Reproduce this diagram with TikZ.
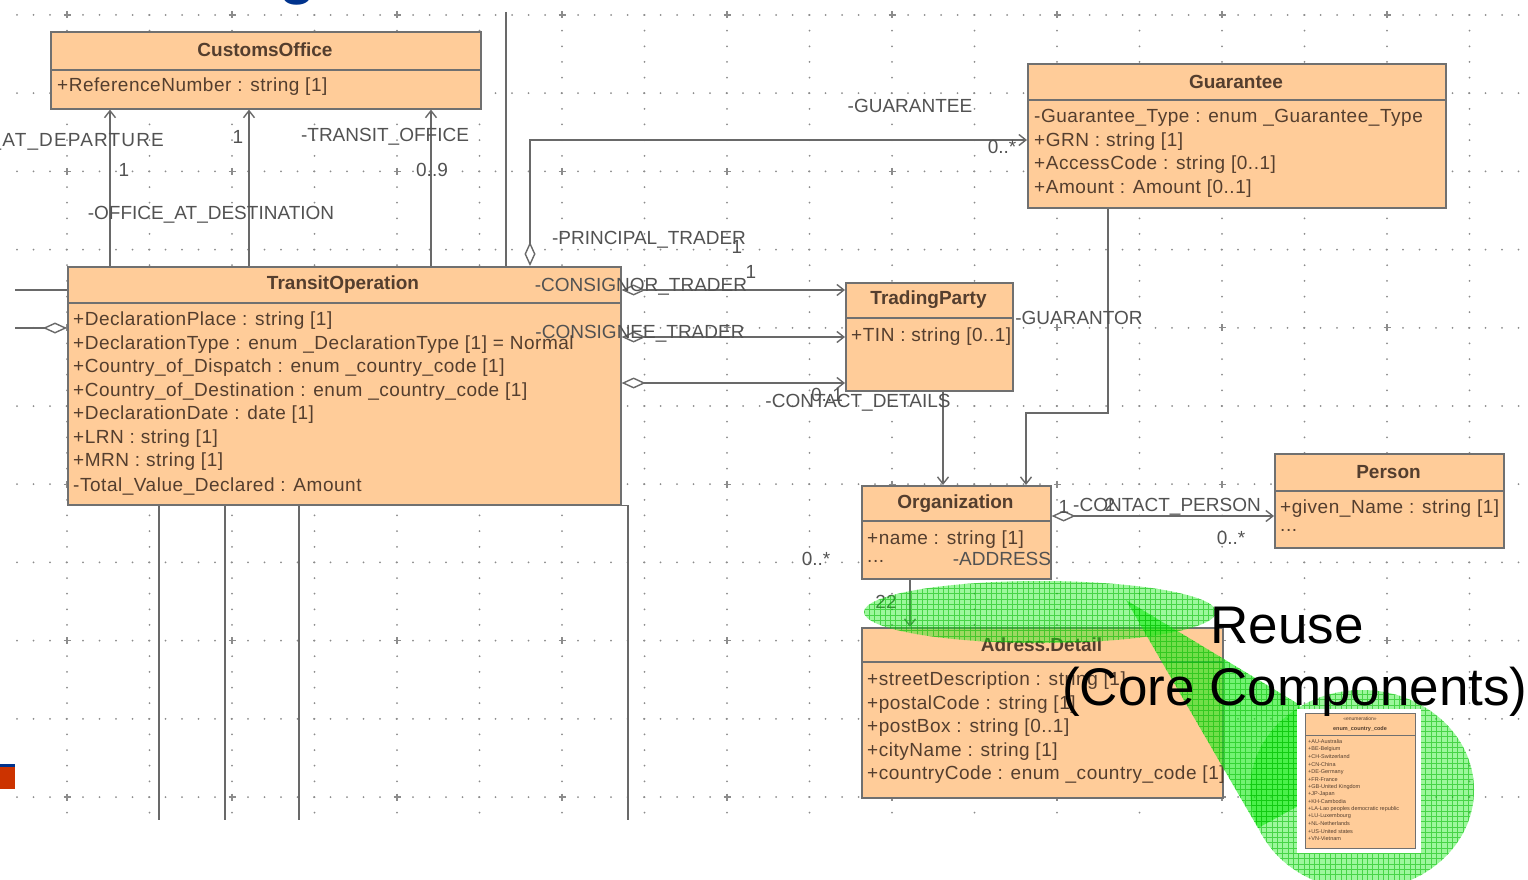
\documentclass[tikz,border=0pt]{standalone}
\usepackage{fontspec}
\setmainfont{Liberation Sans}
\usetikzlibrary{arrows.meta,calc}

\definecolor{boxfill}{RGB}{255,204,153}
\definecolor{boxline}{RGB}{112,112,112}
\definecolor{boxtext}{RGB}{84,62,46}
\definecolor{labeltext}{RGB}{82,82,82}
\definecolor{wire}{RGB}{105,105,105}
\definecolor{dotgray}{RGB}{140,140,140}
\definecolor{hlgreen}{RGB}{20,235,20}
\definecolor{hlhatch}{RGB}{0,185,0}
\definecolor{slideblue}{RGB}{0,51,141}
\definecolor{slideorange}{RGB}{204,51,0}

% translucent green marker with a fine hatch, clipped to the given path
\newcommand{\greenpatch}[2]{%
  \begin{scope}
    \clip #1;
    \fill[hlgreen, fill opacity=#2] (850,560) rectangle (1528,880);
    \draw[hlhatch, line width=0.6pt, opacity=0.55, step=5.3pt] (850,560) grid (1528,880);
  \end{scope}}

\begin{document}
\begin{tikzpicture}[x=1pt,y=-1pt,
  classbox/.style={draw=boxline, fill=boxfill, line width=1.6pt, inner sep=0pt, anchor=north west},
  sepline/.style={draw=boxline, line width=1.4pt},
  cname/.style={font=\fontsize{19}{22}\selectfont\bfseries, text=boxtext, inner sep=0pt},
  attr/.style={font=\fontsize{19}{22}\selectfont\addfontfeature{LetterSpace=2.8}, text=boxtext, inner sep=0pt, anchor=west},
  role/.style={font=\fontsize{19}{22}\selectfont, text=labeltext, inner sep=0pt},
  assoc/.style={draw=wire, line width=1.4pt},
  nav/.style={-{Straight Barb[length=7pt,width=11pt]}},
  agg/.style={{Diamond[fill=white,length=24pt,width=11pt]}-},
  aggnav/.style={{Diamond[fill=white,length=24pt,width=11pt]}-{Straight Barb[length=7pt,width=11pt]}},
  enumtxt/.style={font=\fontsize{5.5}{6}\selectfont, text=boxtext, inner sep=0pt, anchor=west}
]
\useasboundingbox (0,0) rectangle (1528,880);
\clip (0,0) rectangle (1528,880);

% ---------- slide remnants ----------
\node[font=\fontsize{60}{60}\selectfont\bfseries, text=slideblue, anchor=base, inner sep=0pt] (titleg) at (298,-7) {g};
\fill[slideblue] (0,764) rectangle (15,767);
\fill[slideorange] (0,767) rectangle (15,789);

% ---------- dotted drawing grid ----------
\foreach \r in {0,...,10}
  \foreach \i in {0,...,91}
    \fill[dotgray] ({17+16.5*\i},{15+78.2*\r}) circle (1.0);
\foreach \c in {0,...,17}
  \foreach \j in {0,...,51}
    \fill[dotgray] ({67+82.5*\c},{15+15.64*\j}) circle (1.0);
\foreach \gx in {67,232,397,562,727,892,1057,1222,1387}
  \foreach \gy in {15,171.4,327.8,484.2,640.6,797}
    \draw[dotgray, line width=1.2pt] (\gx-3.5,\gy) -- (\gx+3.5,\gy) (\gx,\gy-3.5) -- (\gx,\gy+3.5);

% ---------- classes ----------
\node[classbox, minimum width=430pt, minimum height=77pt] (co) at (50,31) {};
\draw[sepline] ($(co.north west)+(0,39)$) -- ($(co.north east)+(0,39)$);
\node[cname] (coT) at (265,50) {CustomsOffice};
\node[attr] (coA1) at (57,87) {+ReferenceNumber : string [1]};

\node[classbox, minimum width=418pt, minimum height=144pt] (ga) at (1027,63) {};
\draw[sepline] ($(ga.north west)+(0,37)$) -- ($(ga.north east)+(0,37)$);
\node[cname] (gaT) at (1236,82) {Guarantee};
\node[attr] (gaA1) at (1034,118) {-Guarantee\_Type : enum \_Guarantee\_Type};
\node[attr] (gaA2) at (1034,142) {+GRN : string [1]};
\node[attr] (gaA3) at (1034,165) {+AccessCode : string [0..1]};
\node[attr] (gaA4) at (1034,189) {+Amount : Amount [0..1]};

\node[classbox, minimum width=553pt, minimum height=238pt] (to) at (67,266) {};
\draw[sepline] ($(to.north west)+(0,37)$) -- ($(to.north east)+(0,37)$);
\node[cname] (toT) at (343,285) {TransitOperation};
\node[attr] (toA1) at (73,321) {+DeclarationPlace : string [1]};
\node[attr] (toA2) at (73,345) {+DeclarationType : enum \_DeclarationType [1] = Normal};
\node[attr] (toA3) at (73,368) {+Country\_of\_Dispatch : enum \_country\_code [1]};
\node[attr] (toA4) at (73,392) {+Country\_of\_Destination : enum \_country\_code [1]};
\node[attr] (toA5) at (73,415) {+DeclarationDate : date [1]};
\node[attr] (toA6) at (73,439) {+LRN : string [1]};
\node[attr] (toA7) at (73,462) {+MRN : string [1]};
\node[attr] (toA8) at (73,486) {-Total\_Value\_Declared : Amount};

\node[classbox, minimum width=167pt, minimum height=108pt] (tp) at (845,282) {};
\draw[sepline] ($(tp.north west)+(0,36)$) -- ($(tp.north east)+(0,36)$);
\node[cname] (tpT) at (928.5,300) {TradingParty};
\node[attr] (tpA1) at (851,337) {+TIN : string [0..1]};

\node[classbox, minimum width=189pt, minimum height=93pt] (org) at (861,485) {};
\draw[sepline] ($(org.north west)+(0,36)$) -- ($(org.north east)+(0,36)$);
\node[cname] (orgT) at (955.5,504) {Organization};
\node[attr] (orgA1) at (867,540) {+name : string [1]};
\node[attr] (orgA2) at (867,561) {...};

\node[classbox, minimum width=229pt, minimum height=94pt] (pe) at (1274,453) {};
\draw[sepline] ($(pe.north west)+(0,38)$) -- ($(pe.north east)+(0,38)$);
\node[cname] (peT) at (1388.5,472) {Person};
\node[attr] (peA1) at (1280,509) {+given\_Name : string [1]};
\node[attr] (peA2) at (1280,530) {...};

\node[classbox, minimum width=361pt, minimum height=170pt] (ad) at (861,627) {};
\draw[sepline] ($(ad.north west)+(0,35)$) -- ($(ad.north east)+(0,35)$);
\node[cname] (adT) at (1041.5,645) {Adress.Detail};
\node[attr] (adA1) at (867,681) {+streetDescription : string [1]};
\node[attr] (adA2) at (867,705) {+postalCode : string [1]};
\node[attr] (adA3) at (867,728) {+postBox : string [0..1]};
\node[attr] (adA4) at (867,752) {+cityName : string [1]};
\node[attr] (adA5) at (867,775) {+countryCode : enum \_country\_code [1]};

% ---------- association routing points ----------
\coordinate (xDep) at (110,0);
\coordinate (xDest) at (249,0);
\coordinate (xTrans) at (431,0);
\coordinate (topEnd) at (506,12);
\coordinate (gRoute) at (530,140);
\coordinate (yCnor) at (0,290);
\coordinate (yCnee) at (0,337);
\coordinate (yCont) at (0,383);
\coordinate (leftA) at (15,290);
\coordinate (leftB) at (15,328);
\coordinate (downA) at (159,820);
\coordinate (downB) at (225,820);
\coordinate (downC) at (299,820);
\coordinate (downD) at (628,820);
\coordinate (xTpOrg) at (943,0);
\coordinate (xGa) at (1108,0);
\coordinate (gaBend) at (1026,413);
\coordinate (xAddr) at (910,0);
\coordinate (yPers) at (0,516);

% ---------- associations ----------
\draw[assoc,nav] (to.north -| xDep) -- (co.south -| xDep);
\draw[assoc,nav] (to.north -| xDest) -- (co.south -| xDest);
\draw[assoc,nav] (to.north -| xTrans) -- (co.south -| xTrans);
\draw[assoc] (topEnd) -- (to.north -| topEnd);
\draw[assoc,aggnav] (to.north -| gRoute) |- (ga.west |- gRoute);
\draw[assoc,aggnav] (to.east |- yCnor) -- (tp.west |- yCnor);
\draw[assoc,aggnav] (to.east |- yCnee) -- (tp.west |- yCnee);
\draw[assoc,aggnav] (to.east |- yCont) -- (tp.west |- yCont);
\draw[assoc] (to.west |- leftA) -- (leftA);
\draw[assoc,agg] (to.west |- leftB) -- (leftB);
\draw[assoc] (to.south -| downA) -- (downA);
\draw[assoc] (to.south -| downB) -- (downB);
\draw[assoc] (to.south -| downC) -- (downC);
\draw[assoc] (to.south east) -| (downD);
\draw[assoc,nav] (tp.south -| xTpOrg) -- (org.north -| xTpOrg);
\draw[assoc,nav] (ga.south -| xGa) |- (gaBend) -- (org.north -| gaBend);
\draw[assoc,nav] (org.south -| xAddr) -- (ad.north -| xAddr);
\draw[assoc,aggnav] (org.east |- yPers) -- (pe.west |- yPers);

% ---------- role names and multiplicities ----------
\node[role, anchor=east, font=\fontsize{19}{22}\selectfont\addfontfeature{LetterSpace=6}] (rDep) at (164,142) {-OFFICE\_AT\_DEPARTURE};
\node[role] (mDep) at (124,170) {1};
\node[role] (mDest) at (238,137) {1};
\node[role] (rDest) at (211,215) {-OFFICE\_AT\_DESTINATION};
\node[role] (rTrans) at (385,137) {-TRANSIT\_OFFICE};
\node[role] (mTrans) at (432,170) {0..9};
\node[role] (rGa) at (910,106) {-GUARANTEE};
\node[role] (mGa) at (1002,147) {0..*};
\node[role] (rPrin) at (649,240) {-PRINCIPAL\_TRADER};
\node[role] (mPrin) at (737,247) {1};
\node[role] (mCnor) at (751,272) {1};
\node[role] (rCnor) at (641,287) {-CONSIGNOR\_TRADER};
\node[role] (rCnee) at (640,334) {-CONSIGNEE\_TRADER};
\node[role] (mCont) at (827,395) {0..1};
\node[role] (rCont) at (858,403) {-CONTACT\_DETAILS};
\node[role] (rGuar) at (1079,318) {-GUARANTOR};
\node[role] (rAddr) at (1002,559) {-ADDRESS};
\node[role] (mAddrA) at (816,559) {0..*};
\node[role] (mAddrB) at (886,602) {22};
\node[role] (mPersA) at (1064,507) {1};
\node[role] (rPers) at (1167,507) {-CONTACT\_PERSON};
\node[role] (mPersB) at (1110,505) {2};
\node[role] (mPersC) at (1231,538) {0..*};

% ---------- green highlight with callout ----------
\greenpatch{(1040,612) ellipse [x radius=176, y radius=31]}{0.42}
\greenpatch{(1362,790) ellipse [x radius=112, y radius=100]}{0.42}
\greenpatch{(1126,600) -- (1300,705) -- (1300,805) -- (1258,828) -- cycle}{0.6}

% ---------- enumeration thumbnail ----------
\fill[white] (1297,709) rectangle (1421,853);
\node[draw=boxline, fill=boxfill, line width=0.8pt, inner sep=0pt, anchor=north west,
      minimum width=110pt, minimum height=135pt] (en) at (1305,713) {};
\draw[draw=boxline, line width=0.6pt] ($(en.north west)+(0,22)$) -- ($(en.north east)+(0,22)$);
\node[font=\fontsize{5}{6}\selectfont, text=boxtext, inner sep=0pt] (enS) at (1360,719) {<<enumeration>>};
\node[font=\fontsize{5.5}{6}\selectfont\bfseries, text=boxtext, inner sep=0pt] (enT) at (1360,729) {enum\_country\_code};
\foreach \t [count=\k] in {+AU-Australia,+BE-Belgium,+CH-Switzerland,+CN-China,+DE-Germany,+FR-France,+GB-United Kingdom,+JP-Japan,+KH-Cambodia,+LA-Lao peoples democratic republic,+LU-Luxembourg,+NL-Netherlands,+US-United states,+VN-Vietnam}
  \node[enumtxt] (en\k) at (1308,{742+7.45*(\k-1)}) {\t};

% ---------- caption ----------
\node[font=\fontsize{53}{60}\selectfont, anchor=base, inner sep=0pt] (reuse) at (1287,643) {Reuse};
\node[font=\fontsize{53}{60}\selectfont, anchor=base, inner sep=0pt] (core) at (1295,705) {(Core Components)};
\end{tikzpicture}
\end{document}
